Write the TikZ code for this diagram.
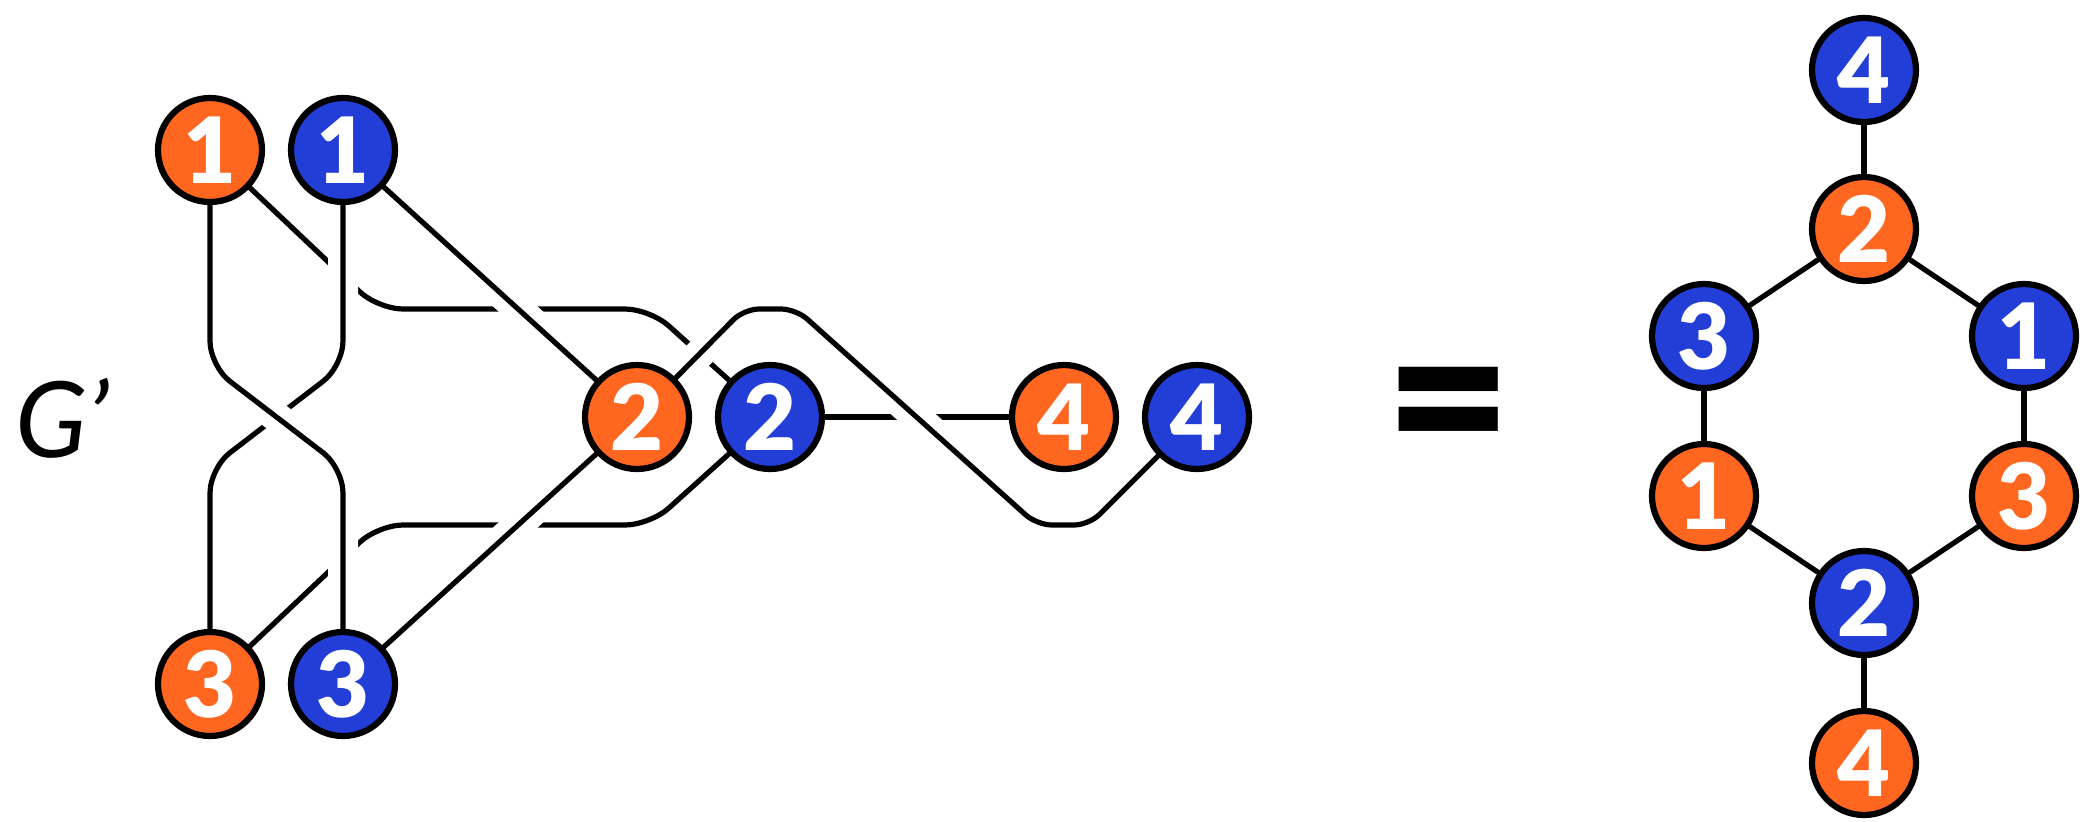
\documentclass[tikz,border=0pt]{standalone}
\usepackage{fontspec}
\setmainfont{Lato}
\newfontfamily\heavyfont{Lato Black}
\usepackage{xcolor}
\usepackage{tikz}
\usetikzlibrary{backgrounds}

\definecolor{liftorange}{RGB}{255,102,32}
\definecolor{liftblue}{RGB}{34,62,214}

\begin{document}
\begin{tikzpicture}[x=0.1mm, y=-0.1mm,
    vertex/.style={circle, draw=black, line width=0.62mm, minimum size=10.4mm, inner sep=0pt, text=white, font=\fontsize{26}{26}\selectfont\heavyfont},
    ov/.style={vertex, fill=liftorange},
    bv/.style={vertex, fill=liftblue},
    wire/.style={line width=0.52mm, rounded corners=2.5mm, line cap=round},
    overwire/.style={wire, preaction={draw=white, line width=3mm}}]
    \useasboundingbox (0,0) rectangle (2090,821);

    % the lift G'
    \node (gp) at (62,418) {\fontsize{30}{30}\selectfont\itshape G’};
    \node (o1) [ov] at (210,150) {1};
    \node (b1) [bv] at (343,150) {1};
    \node (o2) [ov] at (637,417) {2};
    \node (b2) [bv] at (770,417) {2};
    \node (o4) [ov] at (1064,417) {4};
    \node (b4) [bv] at (1197,417) {4};
    \node (o3) [ov] at (210,684) {3};
    \node (b3) [bv] at (343,684) {3};

    \node (eq) at (1449,420) {\fontsize{62}{62}\selectfont\heavyfont =};

    % the cycle on the right
    \node (r4b) [bv] at (1864,70) {4};
    \node (r2o) [ov] at (1864,229) {2};
    \node (r3b) [bv] at (1704,336) {3};
    \node (r1b) [bv] at (2024,336) {1};
    \node (r1o) [ov] at (1704,496) {1};
    \node (r3o) [ov] at (2024,496) {3};
    \node (r2b) [bv] at (1864,603) {2};
    \node (r4o) [ov] at (1864,763) {4};

    \begin{scope}[on background layer]
        % strands that pass under
        \draw[wire] (o1) -- (378,309) -- (650,309) -- (b2);
        \draw[wire] (o3) -- (378,525) -- (650,525) -- (b2);
        \draw[wire] (b2) -- (o4);
        % strands that pass over
        \draw[overwire] (b1) -- (343,366) -- (210,468) -- (o3);
        \draw[overwire] (o1) -- (210,366) -- (343,468) -- (b3);
        \draw[overwire] (b1) -- (o2);
        \draw[overwire] (b3) -- (o2);
        \draw[overwire, rounded corners=1.5mm] (o2) -- (744,309) -- (796,309) -- (1037,525) -- (1089,525) -- (b4);

        \draw[wire] (r4b) -- (r2o);
        \draw[wire] (r2o) -- (r3b);
        \draw[wire] (r2o) -- (r1b);
        \draw[wire] (r3b) -- (r1o);
        \draw[wire] (r1b) -- (r3o);
        \draw[wire] (r1o) -- (r2b);
        \draw[wire] (r3o) -- (r2b);
        \draw[wire] (r2b) -- (r4o);
    \end{scope}
\end{tikzpicture}
\end{document}
